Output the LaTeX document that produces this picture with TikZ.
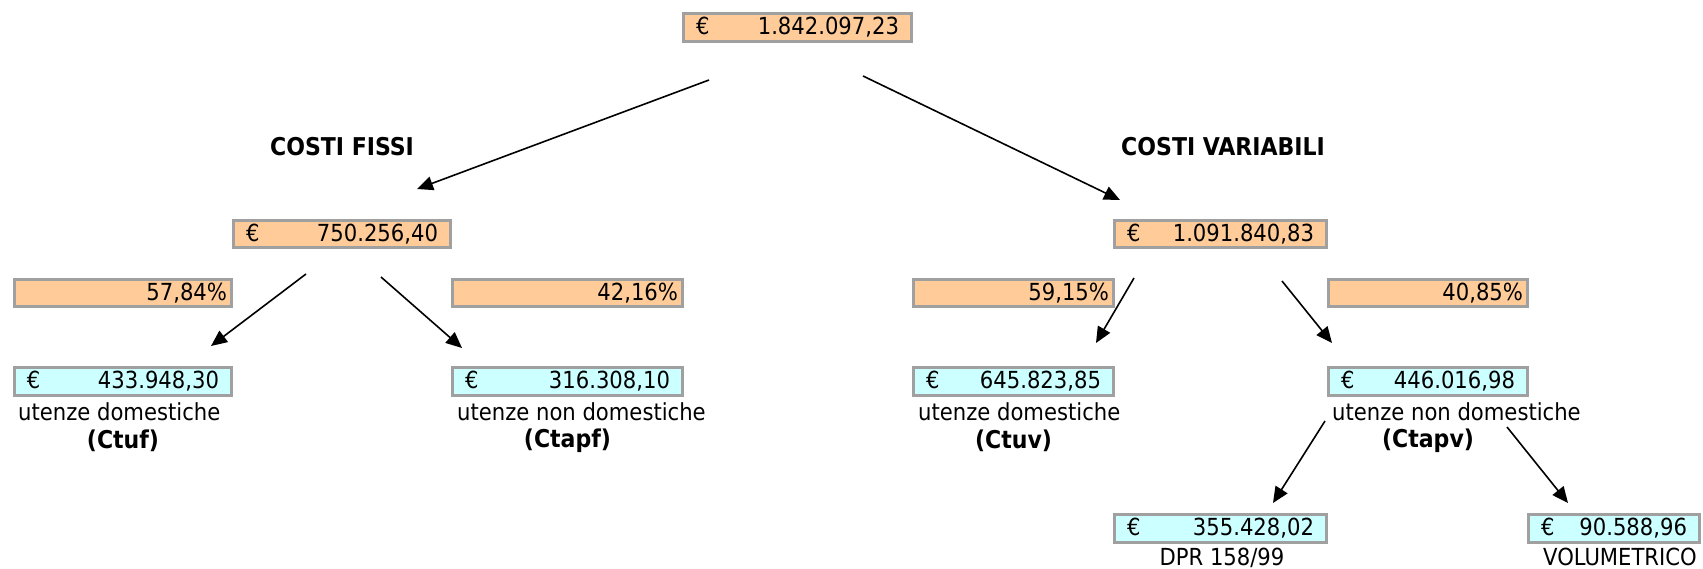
\documentclass[tikz,border=0pt]{standalone}
\usepackage{fontspec}
\setmainfont{DejaVu Sans Condensed}
\usetikzlibrary{arrows.meta}
\definecolor{arancio}{HTML}{FFCC99}
\definecolor{azzurro}{HTML}{CCFFFF}
\definecolor{bordo}{HTML}{A0A0A0}
\tikzset{
	cella/.style={draw=bordo, line width=3pt, inner xsep=12.5pt, inner ysep=0pt, minimum height=27.5pt, font=\fontsize{23.5}{27}\selectfont},
	importo/.style={cella, fill=arancio},
	euro/.style={cella, fill=azzurro},
	perc/.style={cella, fill=arancio, inner xsep=4.5pt, align=right},
	testo/.style={inner sep=0pt, font=\fontsize{23.5}{27}\selectfont},
	titolo/.style={inner sep=0pt, font=\fontsize{24.5}{28}\selectfont\bfseries},
	freccia/.style={line width=1.6pt, -{Triangle[length=16pt,width=14pt]}}
}

\begin{document}
\begin{tikzpicture}[x=1pt, y=-1pt]
			%%%%% START %%%%%
			
			\useasboundingbox (0, 0) rectangle (1703, 568);
			
			\node[importo, text width=203pt] (tot) at (797.5, 27.5) {€\hfill 1.842.097,23};
			
			\node[titolo] (lbl-fissi) at (342, 147) {COSTI FISSI};
			\node[titolo] (lbl-var) at (1223, 147) {COSTI VARIABILI};
			
			\node[importo, text width=192pt] (fissi) at (342, 234) {€\hfill 750.256,40};
			\node[importo, text width=187pt] (variab) at (1220.5, 234) {€\hfill 1.091.840,83};
			
			\node[perc, text width=208pt] (p-uf) at (123, 293) {57,84\%};
			\node[perc, text width=221pt] (p-apf) at (567.5, 293) {42,16\%};
			\node[perc, text width=191pt] (p-uv) at (1013.5, 293) {59,15\%};
			\node[perc, text width=190pt] (p-apv) at (1428, 293) {40,85\%};
			
			\node[euro, text width=192pt] (ctuf) at (123, 381.5) {€\hfill 433.948,30};
			\node[euro, text width=205pt] (ctapf) at (567.5, 381.5) {€\hfill 316.308,10};
			\node[euro, text width=175pt] (ctuv) at (1013.5, 381.5) {€\hfill 645.823,85};
			\node[euro, text width=174pt] (ctapv) at (1428, 381.5) {€\hfill 446.016,98};
			
			\node[testo, anchor=west] (ud-f) at (18, 412) {utenze domestiche};
			\node[titolo] (cod-uf) at (123, 441) {(Ctuf)};
			\node[testo, anchor=west] (und-f) at (457, 412) {utenze non domestiche};
			\node[titolo] (cod-apf) at (567.5, 441) {(Ctapf)};
			\node[testo, anchor=west] (ud-v) at (918, 412) {utenze domestiche};
			\node[titolo] (cod-uv) at (1013.5, 441) {(Ctuv)};
			\node[testo, anchor=west] (und-v) at (1332, 412) {utenze non domestiche};
			\node[titolo] (cod-apv) at (1428, 441) {(Ctapv)};
			
			\node[euro, text width=187pt] (dpr) at (1220.5, 528.5) {€\hfill 355.428,02};
			\node[euro, text width=146pt] (vol) at (1614, 528.5) {€\hfill 90.588,96};
			\node[testo] (lbl-dpr) at (1222, 558) {DPR 158/99};
			\node[testo] (lbl-vol) at (1620, 557) {VOLUMETRICO};
			
			\coordinate (tot-sx) at (709, 80);
			\coordinate (tot-dx) at (863, 76);
			\coordinate (fissi-in) at (417, 189);
			\coordinate (variab-in) at (1120, 200);
			\coordinate (fissi-sx) at (306, 274);
			\coordinate (fissi-dx) at (381, 277);
			\coordinate (ctuf-in) at (211, 346);
			\coordinate (ctapf-in) at (462, 348);
			\coordinate (variab-sx) at (1134, 278);
			\coordinate (variab-dx) at (1282, 281);
			\coordinate (ctuv-in) at (1096, 343);
			\coordinate (ctapv-in) at (1332, 343);
			\coordinate (ctapv-sx) at (1325, 421);
			\coordinate (ctapv-dx) at (1507, 427);
			\coordinate (dpr-in) at (1273, 503);
			\coordinate (vol-in) at (1568, 503);
			
			\draw[freccia] (tot-sx) -- (fissi-in);
			\draw[freccia] (tot-dx) -- (variab-in);
			\draw[freccia] (fissi-sx) -- (ctuf-in);
			\draw[freccia] (fissi-dx) -- (ctapf-in);
			\draw[freccia] (variab-sx) -- (ctuv-in);
			\draw[freccia] (variab-dx) -- (ctapv-in);
			\draw[freccia] (ctapv-sx) -- (dpr-in);
			\draw[freccia] (ctapv-dx) -- (vol-in);
			
			%%%%% END %%%%%
\end{tikzpicture}
\end{document}
